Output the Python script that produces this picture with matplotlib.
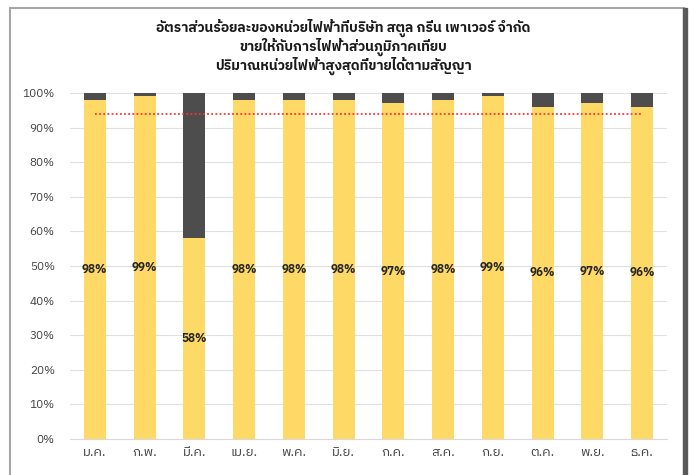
import matplotlib
matplotlib.use('Agg')
import matplotlib.pyplot as plt
from matplotlib import font_manager, ft2font
from matplotlib.patches import Rectangle

# --- Data ---
months = ['ม.ค.', 'ก.พ.', 'มี.ค.', 'เม.ย.', 'พ.ค.', 'มิ.ย.',
          'ก.ค.', 'ส.ค.', 'ก.ย.', 'ต.ค.', 'พ.ย.', 'ธ.ค.']
sold_pct = [98, 99, 58, 98, 98, 98, 97, 98, 99, 96, 97, 96]
target_pct = [94] * 12
title_lines = ['อัตราส่วนร้อยละของหน่วยไฟฟ้าที่บริษัท สตูล กรีน เพาเวอร์ จำกัด',
               'ขายให้กับการไฟฟ้าส่วนภูมิภาคเทียบ',
               'ปริมาณหน่วยไฟฟ้าสูงสุดที่ขายได้ตามสัญญา']

# --- Find a font that has Thai glyphs ---
thai_family = None
for f in font_manager.fontManager.ttflist:
    try:
        if ft2font.FT2Font(f.fname).get_char_index(0x0E01):
            thai_family = f.name
            if 'Thai' in f.name or 'Tahoma' in f.name:
                break
    except Exception:
        pass
families = ([thai_family] if thai_family else []) + ['DejaVu Sans']
plt.rcParams['font.family'] = families

yellow = '#FFD966'
dark = '#4D4D4D'

fig = plt.figure(figsize=(6.91, 4.75), dpi=100)
ax = fig.add_axes([70 / 691, 1 - 439 / 475, 597 / 691, 346 / 475])

x = list(range(len(months)))
rest = [100 - v for v in sold_pct]
ax.bar(x, sold_pct, width=0.44, color=yellow, zorder=2)
ax.bar(x, rest, width=0.44, bottom=sold_pct, color=dark, zorder=2)
ax.plot(x, target_pct, color='#FF3333', linestyle=(0, (1, 1.3)), linewidth=1.3, zorder=3)

for xi, v in zip(x, sold_pct):
    ax.text(xi, v / 2, f'{v}%', ha='center', va='center', fontsize=8.5,
            fontweight='bold', color='#262626', zorder=4)

ax.set_xlim(-0.5, len(months) - 0.5)
ax.set_ylim(0, 100)
ax.set_yticks(range(0, 101, 10))
ax.set_yticklabels([f'{v}%' for v in range(0, 101, 10)])
ax.set_xticks(x)
ax.set_xticklabels(months)
ax.tick_params(axis='both', length=0, labelsize=8.5, colors='#404040')
ax.tick_params(axis='x', labelsize=9.5, pad=5)
ax.tick_params(axis='y', pad=11)
ax.grid(axis='y', color='#E0E0E0', linewidth=0.8, zorder=0)
for s in ['top', 'right', 'left']:
    ax.spines[s].set_visible(False)
ax.spines['bottom'].set_color('#D9D9D9')

# title as one multi-line text block
fig.text(0.497, 1 - 47 / 475, '\n'.join(title_lines), ha='center', va='center',
         ma='center', fontsize=10, fontweight='bold', color='#1a1a1a',
         linespacing=1.05)

# --- Chart frame ---
fig.patches.append(Rectangle((10 / 691, -0.05), 674 / 691, 1 - 8 / 475 + 0.05,
                             transform=fig.transFigure, fill=False,
                             edgecolor='#A6A6A6', linewidth=1.5))
fig.patches.append(Rectangle((683 / 691, -0.05), 4 / 691, 1 - 8 / 475 + 0.05,
                             transform=fig.transFigure, color='#595959'))

fig.savefig('out.png', dpi=100)
